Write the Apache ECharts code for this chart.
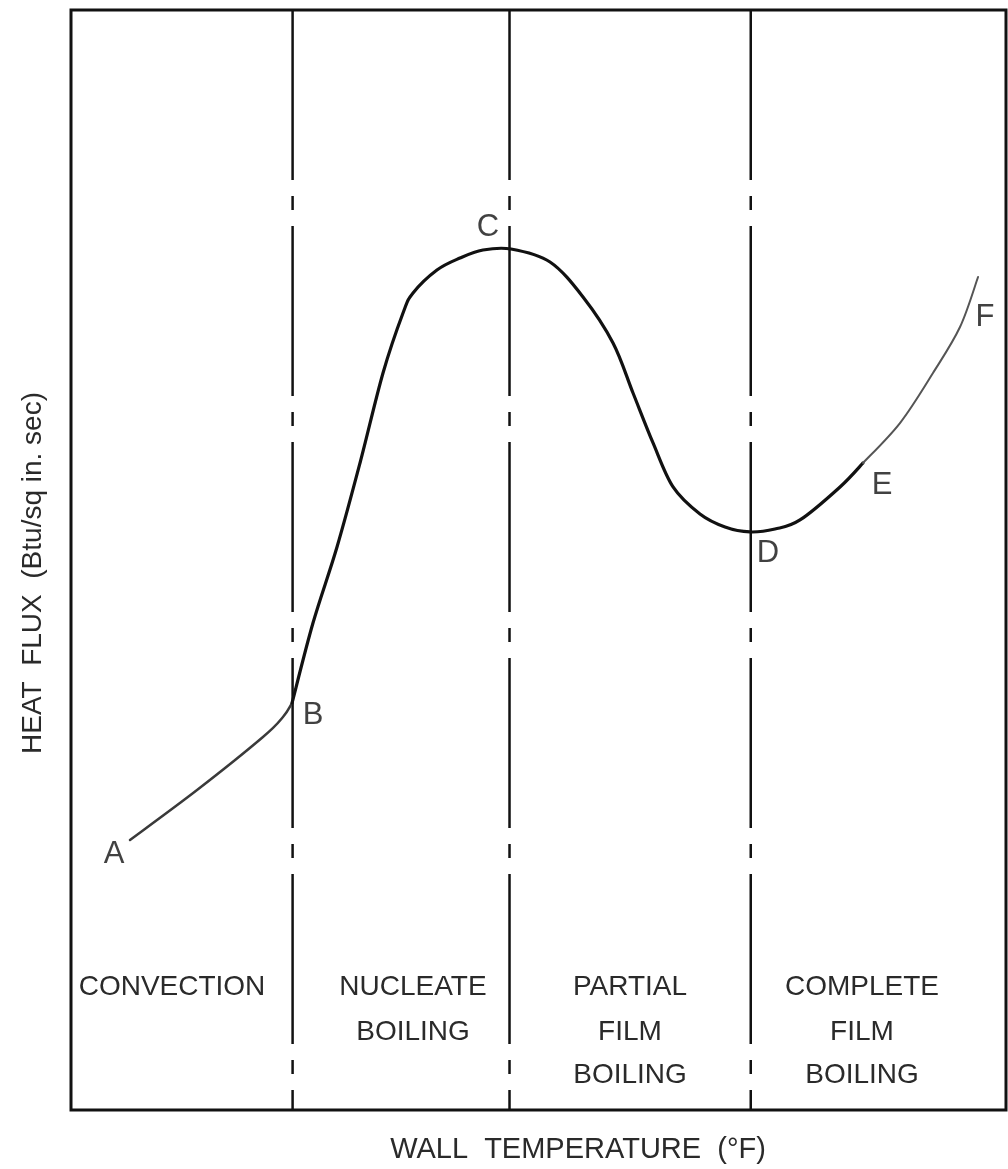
<!DOCTYPE html>
<html>
<head>
<meta charset="utf-8">
<script src="https://cdn.jsdelivr.net/npm/echarts@6/dist/echarts.min.js"></script>
<style>
html,body{margin:0;padding:0;background:#fff;}
#chart{width:1008px;height:1169px;}
</style>
</head>
<body>
<div id="chart"></div>
<script>
// ---- data (arbitrary units: wall temperature T, heat flux Q, 0..100) ----
const segAB_T = [6.31, 13.48, 20.53, 22.67, 23.64];
const segAB_Q = [24.55, 29.09, 33.91, 35.73, 37.00];

const segBE_T = [23.64, 25.88, 28.45, 30.91, 33.37, 35.51, 36.58, 39.14, 41.60, 44.06, 47.06, 51.23, 54.76, 57.97, 60.11, 62.25, 64.39, 67.27, 69.95, 72.62, 75.29, 77.97, 82.25, 84.71];
const segBE_Q = [37.00, 44.27, 51.18, 58.82, 67.00, 72.45, 74.27, 76.36, 77.45, 78.18, 78.27, 77.09, 73.91, 69.73, 65.18, 60.64, 56.64, 54.18, 53.00, 52.55, 52.82, 53.64, 56.64, 58.82];

const segEF_T = [84.71, 88.66, 92.19, 95.08, 97.01];
const segEF_Q = [58.82, 62.45, 67.00, 71.18, 75.73];

const pointNames = ['A', 'B', 'C', 'D', 'E', 'F'];
const pointT = [6.31, 23.64, 47.06, 72.62, 84.71, 97.01];
const pointQ = [24.55, 37.00, 78.27, 52.55, 58.82, 75.73];

const dividerT = [23.7, 46.9, 72.7];

const regionLines = [
  ['CONVECTION'],
  ['NUCLEATE', 'BOILING'],
  ['PARTIAL', 'FILM', 'BOILING'],
  ['COMPLETE', 'FILM', 'BOILING']
];

const xTitle = 'WALL  TEMPERATURE  (°F)';
const yTitle = 'HEAT  FLUX  (Btu/sq in. sec)';

// ---- build ----
const zip = (a, b) => a.map((v, i) => [v, b[i]]);
const FONT = '"Liberation Sans", Arial, sans-serif';

// label offsets (style) relative to each point
const labelOffset = { A: [-16, 15], B: [21, 12], C: [-23, -22], D: [18, 22], E: [19, 22], F: [7, 40] };

// smooth curve through data points, positioned by the chart's own scales (api.coord)
function curveSeries(name, data, lineStyle) {
  return {
    type: 'custom', name: name, silent: true, z: 3,
    data: data,
    encode: { x: 0, y: 1 },
    renderItem: function (params, api) {
      if (params.dataIndex !== 0) return null;
      const pts = data.map(d => api.coord(d));
      const n = pts.length;
      const t = 1 / 6;
      let path = 'M' + pts[0][0] + ' ' + pts[0][1];
      for (let i = 0; i < n - 1; i++) {
        const p0 = pts[Math.max(i - 1, 0)], p1 = pts[i], p2 = pts[i + 1], p3 = pts[Math.min(i + 2, n - 1)];
        const c1x = p1[0] + (p2[0] - p0[0]) * t, c1y = p1[1] + (p2[1] - p0[1]) * t;
        const c2x = p2[0] - (p3[0] - p1[0]) * t, c2y = p2[1] - (p3[1] - p1[1]) * t;
        path += ' C' + c1x + ' ' + c1y + ' ' + c2x + ' ' + c2y + ' ' + p2[0] + ' ' + p2[1];
      }
      return {
        type: 'path',
        shape: { pathData: path },
        style: Object.assign({ fill: null, lineJoin: 'round', lineCap: 'round' }, lineStyle)
      };
    }
  };
}

const series = [];

dividerT.forEach((t, i) => {
  series.push({
    type: 'line', name: 'divider' + i, silent: true, symbol: 'none',
    data: [[t, 100], [t, 0]],
    lineStyle: { color: '#111', width: 2.5, type: [170, 16, 14, 16] },
    z: 1
  });
});

series.push(curveSeries('convection', zip(segAB_T, segAB_Q), { stroke: '#3a3a3a', lineWidth: 2.5 }));
series.push(curveSeries('boiling', zip(segBE_T, segBE_Q), { stroke: '#111', lineWidth: 3.2 }));
series.push(curveSeries('film', zip(segEF_T, segEF_Q), { stroke: '#555', lineWidth: 2 }));

series.push({
  type: 'scatter', name: 'points', symbolSize: 0, silent: true,
  data: pointNames.map((n, i) => ({
    name: n, value: [pointT[i], pointQ[i]],
    label: { position: labelOffset[n] }
  })),
  label: {
    show: true, formatter: p => p.name,
    align: 'center', verticalAlign: 'middle',
    fontFamily: FONT, fontSize: 31, color: '#111'
  },
  z: 4
});

// region labels (pixel styling)
const regionCx = [172, 413, 630, 862];
const lineY = [987, 1032, 1075];
const graphic = [];
regionLines.forEach((lines, r) => {
  lines.forEach((txt, k) => {
    graphic.push({
      type: 'text', x: regionCx[r], y: lineY[k], silent: true,
      style: { text: txt, align: 'center', verticalAlign: 'middle', font: '28px ' + FONT, fill: '#2a2a2a' }
    });
  });
});
graphic.push({
  type: 'text', x: 578, y: 1150, silent: true,
  style: { text: xTitle, align: 'center', verticalAlign: 'middle', font: '29px ' + FONT, fill: '#2a2a2a' }
});
graphic.push({
  type: 'text', x: 33, y: 573, rotation: Math.PI / 2, silent: true,
  style: { text: yTitle, align: 'center', verticalAlign: 'middle', font: '28px ' + FONT, fill: '#2a2a2a' }
});

const chart = echarts.init(document.getElementById('chart'), null, { renderer: 'canvas' });
chart.setOption({
  animation: false,
  backgroundColor: '#fff',
  grid: { left: 71, right: 2, top: 10, bottom: 59, show: true, borderColor: '#111', borderWidth: 3, backgroundColor: 'transparent' },
  xAxis: { type: 'value', min: 0, max: 100, show: false },
  yAxis: { type: 'value', min: 0, max: 100, show: false },
  series: series,
  graphic: graphic
});
</script>
</body>
</html>
